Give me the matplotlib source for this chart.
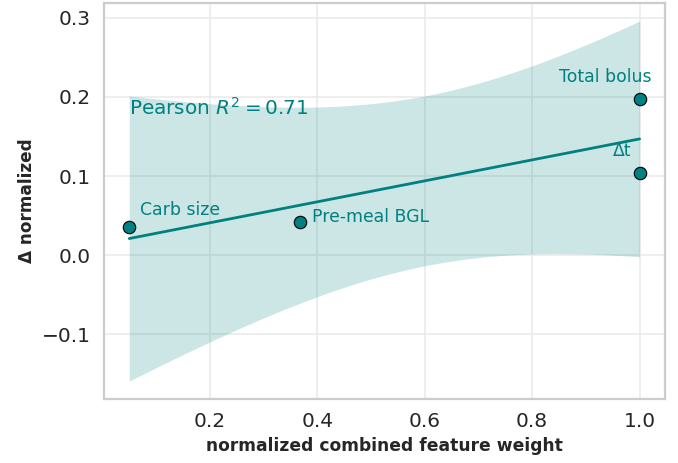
import numpy as np
import matplotlib

matplotlib.use("Agg")
import matplotlib.pyplot as plt
import seaborn as sns

# feature weight vs change
FEATURES = ["Carb size", "Pre-meal BGL", "Total bolus", "\u0394t"]
WEIGHT = [0.05, 0.367, 1.0, 1.0]
DELTA = [0.035, 0.042, 0.197, 0.104]
PEARSON_R2 = 0.71  # as printed on the figure
# label offsets in pixels (dx, dy) and alignment
LABEL_OFFSETS = [(11, 17, "left"), (12, 5, "left"), (-34, 22, "center"), (-17, 22, "center")]

T_CRIT = 4.303  # t quantile, 95 %, df = 2
TEAL = "#008080"

sns.set_theme(style="whitegrid")
plt.rcParams["font.family"] = ["DejaVu Sans"]

fig, ax = plt.subplots(figsize=(6.78, 4.63), dpi=100)
fig.subplots_adjust(left=0.153, right=0.981, top=0.9935, bottom=0.138)

x = np.array(WEIGHT)
y = np.array(DELTA)
n = len(x)
slope, intercept = np.polyfit(x, y, 1)
resid = y - (slope * x + intercept)
s = np.sqrt(np.sum(resid ** 2) / (n - 2))
sxx = np.sum((x - x.mean()) ** 2)

grid = np.linspace(x.min(), x.max(), 200)
fit = slope * grid + intercept
half = T_CRIT * s * np.sqrt(1.0 / n + (grid - x.mean()) ** 2 / sxx)

ax.fill_between(grid, fit - half, fit + half, color=TEAL, alpha=0.2, lw=0, zorder=1)
ax.plot(grid, fit, color=TEAL, lw=2, zorder=2)
ax.scatter(x, y, s=80, color=TEAL, edgecolor="black", linewidth=0.8, zorder=3)

for name, xi, yi, (dx, dy, ha) in zip(FEATURES, x, y, LABEL_OFFSETS):
    ax.annotate(name, (xi, yi), textcoords="offset pixels", xytext=(dx, dy),
                ha=ha, va="center", fontsize=12.4, color=TEAL)

ax.text(0.05, 0.186, rf"Pearson $R^2 = {PEARSON_R2:.2f}$", fontsize=14.4,
        color=TEAL, ha="left", va="center")

ax.set_xticks([0.2, 0.4, 0.6, 0.8, 1.0])
ax.set_yticks([-0.1, 0.0, 0.1, 0.2, 0.3])
ax.tick_params(labelsize=14.5, colors="#262626")
ax.set_xlabel("normalized combined feature weight", fontsize=12.3, fontweight="bold")
ax.set_ylabel("\u0394 normalized", fontsize=12.2, fontweight="bold")
for sp in ax.spines.values():
    sp.set_color("#cccccc")
    sp.set_linewidth(1.6)
ax.grid(color="#ebebeb", lw=1.2)

fig.savefig("out.png", dpi=100)
